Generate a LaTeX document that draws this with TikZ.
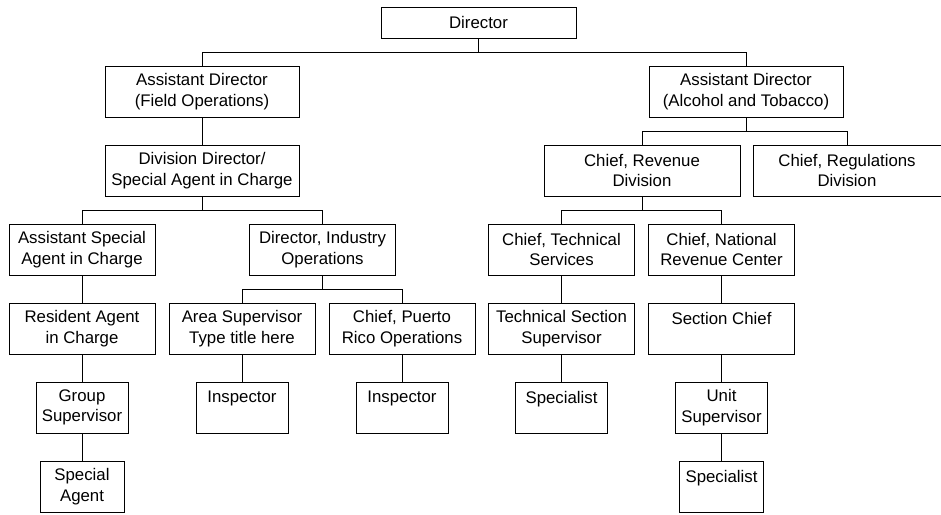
\documentclass[tikz,border=0pt]{standalone}
\usepackage{fontspec}
\setmainfont{Liberation Sans}
\usetikzlibrary{calc}

\tikzset{
  post/.style  = {draw, line width=.6pt, align=center, inner sep=0pt,
                  font=\fontsize{12.6}{15.5}\selectfont,
                  minimum height=38.25pt},
  wide/.style  = {post, minimum width=145.5pt},
  mid/.style   = {post, minimum width=109.5pt},
  small/.style = {post, minimum width=69pt},
  tiny/.style  = {post, minimum width=63pt},
  link/.style  = {line width=.6pt},
}

\begin{document}
\begin{tikzpicture}[x=.75pt,y=-.75pt]
    \useasboundingbox (0,0) rectangle (941,514);

    % top
    \node [post, minimum width=146.25pt, minimum height=23.25pt] (director) at (478.5,22.5) {Director};
    \node [wide] (adfield)   at (202,91.5)  {Assistant Director\\(Field Operations)};
    \node [wide] (adalc)     at (746,91.5)  {Assistant Director\\(Alcohol and Tobacco)};

    % field operations
    \node [wide] (divdir)    at (202,170.5) {Division Director/\\Special Agent in Charge};
    \node [mid]  (asac)      at (82,249.5)  {Assistant Special\\Agent in Charge};
    \node [mid]  (industry)  at (322.5,249.5) {Director, Industry\\Operations};
    \node [mid]  (resident)  at (82,328.5)  {Resident Agent\\in Charge};
    \node [mid]  (area)      at (242,328.5) {Area Supervisor\\Type title here};
    \node [mid]  (prico)     at (402,328.5) {Chief, Puerto\\Rico Operations};
    \node [small] (group)    at (82,407.5)  {Group\\Supervisor};
    \node [small] (inspA)    at (242,407.5) {Inspector\\\mbox{}};
    \node [small] (inspB)    at (402,407.5) {Inspector\\\mbox{}};
    \node [tiny] (agent)     at (82,486.5)  {Special\\Agent};

    % alcohol and tobacco
    \node [wide, minimum width=147pt] (revenue) at (642,170.5) {Chief, Revenue\\Division};
    \node [wide, minimum width=141pt] (regs)    at (847,170.5) {Chief, Regulations\\Division};
    \node [mid]  (techserv)  at (561.5,249.5) {Chief, Technical\\Services};
    \node [mid]  (national)  at (721.5,249.5) {Chief, National\\Revenue Center};
    \node [mid]  (techsec)   at (561.5,328.5) {Technical Section\\Supervisor};
    \node [mid]  (secchief)  at (721.5,328.5) {Section Chief\\\mbox{}};
    \node [small] (specA)    at (561.5,407.5) {Specialist\\\mbox{}};
    \node [small] (unit)     at (721.5,407.5) {Unit\\Supervisor};
    \node [tiny] (specB)     at (721.5,486.5) {Specialist\\\mbox{}};

    % branching links
    \foreach \p/\c in {director/adfield,director/adalc,
                       divdir/asac,divdir/industry,
                       industry/area,industry/prico,
                       adalc/revenue,adalc/regs,
                       revenue/techserv,revenue/national} {
      \draw [link] (\p.south) -- ++(0,14) -| (\c.north);
    }

    % straight links
    \foreach \p/\c in {adfield/divdir,asac/resident,resident/group,group/agent,
                       area/inspA,prico/inspB,
                       techserv/techsec,techsec/specA,
                       national/secchief,secchief/unit,unit/specB} {
      \draw [link] (\p.south) -- (\c.north);
    }
\end{tikzpicture}
\end{document}
